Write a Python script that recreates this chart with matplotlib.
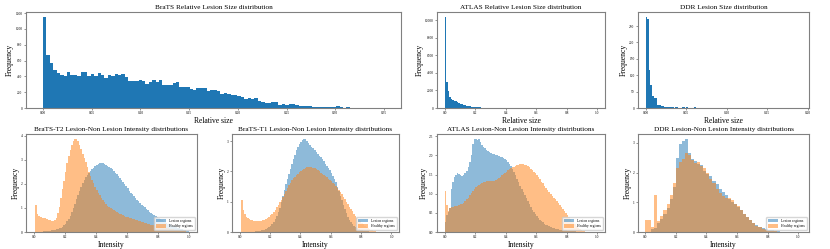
import numpy as np
import matplotlib
matplotlib.use('Agg')
import matplotlib.pyplot as plt
from matplotlib.ticker import MultipleLocator

plt.rcParams['font.family'] = 'serif'
plt.rcParams['font.serif'] = ['Liberation Serif', 'DejaVu Serif']

# --- relative lesion size histograms (counts per bin, 100 bins from 0) ---
brats_size_max = 0.35
brats_size_counts = [
    1157, 668, 570, 485, 443, 421, 400, 460, 413, 413,
    408, 455, 451, 408, 434, 408, 438, 413, 379, 421,
    408, 426, 421, 434, 391, 345, 336, 336, 349, 340,
    306, 328, 357, 328, 357, 289, 294, 289, 319, 323,
    264, 268, 264, 243, 234, 255, 255, 255, 221, 234,
    234, 209, 183, 196, 183, 162, 162, 149, 136, 119,
    128, 119, 123, 85, 81, 64, 64, 81, 77, 38,
    47, 43, 51, 47, 38, 26, 26, 21, 21, 17,
    13, 13, 9, 9, 9, 13, 21, 9, 4, 13,
    4, 3, 2, 2, 1, 1, 1, 0, 1, 1,
]

atlas_size_max = 1.0
atlas_size_counts = [
    10420, 2960, 1885, 1230, 1040, 920, 846, 770, 654, 577,
    500, 423, 346, 308, 270, 230, 190, 160, 150, 130,
    120, 100, 80, 60, 50, 40, 30, 22, 16, 12,
    10, 8, 6, 5, 4, 3, 3, 2, 2, 1,
    1, 1, 0, 1, 0, 0, 1, 0, 0, 0,
    0, 0, 0, 0, 0, 0, 0, 0, 0, 0,
    0, 0, 0, 0, 0, 0, 0, 0, 0, 0,
    0, 0, 0, 0, 0, 0, 0, 0, 0, 0,
    0, 0, 0, 0, 0, 0, 0, 0, 0, 0,
    0, 0, 0, 0, 0, 0, 0, 0, 0, 1,
]

ddr_size_max = 0.192
ddr_size_counts = [
    279, 272, 115, 69, 38, 30, 30, 10, 9, 9,
    6, 7, 4, 3, 4, 3, 2, 2, 1, 3,
    2, 1, 1, 2, 3, 1, 2, 1, 1, 0,
    1, 2, 1, 0, 1, 1, 0, 1, 0, 1,
    0, 1, 0, 0, 1, 0, 1, 0, 0, 1,
    0, 0, 1, 0, 0, 0, 1, 0, 0, 0,
    1, 0, 0, 0, 0, 1, 0, 0, 0, 0,
    0, 1, 0, 0, 0, 0, 0, 1, 0, 0,
    0, 0, 0, 0, 1, 0, 0, 0, 0, 0,
    0, 0, 0, 0, 0, 0, 0, 0, 0, 1,
]

# --- intensity histograms (density over [0, 1]) ---
# BraTS-T2, 100 bins
t2_lesion = [
    0.00, 0.00, 0.01, 0.01, 0.02, 0.02, 0.03, 0.04, 0.05, 0.05,
    0.06, 0.07, 0.08, 0.09, 0.11, 0.12, 0.15, 0.18, 0.22, 0.28,
    0.35, 0.44, 0.55, 0.68, 0.84, 1.00, 1.18, 1.36, 1.54, 1.72,
    1.88, 2.03, 2.16, 2.28, 2.38, 2.47, 2.55, 2.62, 2.68, 2.73,
    2.78, 2.82, 2.85, 2.86, 2.85, 2.83, 2.80, 2.76, 2.71, 2.66,
    2.60, 2.54, 2.47, 2.40, 2.32, 2.24, 2.16, 2.07, 1.98, 1.90,
    1.81, 1.72, 1.64, 1.56, 1.48, 1.41, 1.34, 1.27, 1.20, 1.14,
    1.08, 1.02, 0.96, 0.90, 0.85, 0.80, 0.75, 0.70, 0.65, 0.61,
    0.57, 0.53, 0.49, 0.45, 0.42, 0.38, 0.35, 0.32, 0.29, 0.26,
    0.23, 0.21, 0.18, 0.16, 0.13, 0.11, 0.09, 0.07, 0.05, 0.03,
]
t2_healthy = [
    0.00, 1.13, 0.75, 0.66, 0.62, 0.60, 0.58, 0.57, 0.54, 0.51,
    0.48, 0.46, 0.46, 0.50, 0.58, 0.78, 1.05, 1.42, 1.78, 2.12,
    2.50, 2.88, 3.18, 3.42, 3.63, 3.78, 3.85, 3.88, 3.80, 3.62,
    3.45, 3.26, 3.08, 2.90, 2.70, 2.50, 2.33, 2.17, 2.02, 1.88,
    1.75, 1.62, 1.52, 1.42, 1.33, 1.24, 1.17, 1.10, 1.05, 0.99,
    0.94, 0.90, 0.86, 0.82, 0.79, 0.76, 0.73, 0.70, 0.67, 0.64,
    0.62, 0.59, 0.57, 0.54, 0.52, 0.50, 0.48, 0.46, 0.44, 0.42,
    0.40, 0.38, 0.36, 0.34, 0.33, 0.31, 0.30, 0.28, 0.27, 0.25,
    0.24, 0.22, 0.21, 0.19, 0.18, 0.16, 0.15, 0.13, 0.12, 0.11,
    0.10, 0.09, 0.08, 0.07, 0.06, 0.05, 0.04, 0.03, 0.02, 0.01,
]
# BraTS-T1, 100 bins
t1_lesion = [
    0.00, 0.00, 0.00, 0.00, 0.00, 0.00, 0.00, 0.00, 0.01, 0.01,
    0.02, 0.02, 0.03, 0.04, 0.05, 0.06, 0.08, 0.10, 0.13, 0.16,
    0.20, 0.26, 0.33, 0.42, 0.52, 0.65, 0.80, 0.98, 1.18, 1.38,
    1.58, 1.76, 1.92, 2.08, 2.24, 2.40, 2.55, 2.70, 2.82, 2.90,
    2.96, 3.03, 3.08, 3.06, 3.00, 2.94, 2.88, 2.82, 2.76, 2.70,
    2.64, 2.58, 2.52, 2.46, 2.40, 2.33, 2.26, 2.19, 2.11, 2.03,
    1.95, 1.86, 1.76, 1.64, 1.50, 1.35, 1.20, 1.04, 0.89, 0.75,
    0.62, 0.51, 0.41, 0.33, 0.26, 0.20, 0.16, 0.12, 0.09, 0.07,
    0.05, 0.04, 0.03, 0.02, 0.02, 0.01, 0.01, 0.00, 0.00, 0.00,
    0.00, 0.00, 0.00, 0.00, 0.00, 0.00, 0.00, 0.00, 0.00, 0.00,
]
t1_healthy = [
    0.00, 1.05, 0.72, 0.58, 0.50, 0.45, 0.42, 0.40, 0.38, 0.37,
    0.36, 0.35, 0.35, 0.36, 0.37, 0.38, 0.40, 0.43, 0.46, 0.50,
    0.55, 0.61, 0.67, 0.74, 0.82, 0.90, 0.98, 1.07, 1.16, 1.26,
    1.36, 1.46, 1.55, 1.63, 1.71, 1.77, 1.83, 1.88, 1.93, 1.97,
    2.01, 2.05, 2.08, 2.11, 2.14, 2.15, 2.15, 2.14, 2.12, 2.10,
    2.07, 2.04, 2.00, 1.96, 1.92, 1.88, 1.84, 1.80, 1.76, 1.72,
    1.68, 1.63, 1.58, 1.52, 1.46, 1.39, 1.32, 1.24, 1.16, 1.08,
    1.00, 0.92, 0.84, 0.76, 0.68, 0.61, 0.54, 0.47, 0.41, 0.35,
    0.30, 0.25, 0.20, 0.16, 0.12, 0.09, 0.07, 0.05, 0.03, 0.02,
    0.01, 0.01, 0.00, 0.00, 0.00, 0.00, 0.00, 0.00, 0.00, 0.00,
]
# ATLAS, 100 bins
atlas_lesion = [
    0.26, 0.44, 0.52, 0.62, 1.12, 1.30, 1.44, 1.50, 1.53, 1.52,
    1.48, 1.46, 1.50, 1.54, 1.60, 1.70, 1.84, 2.02, 2.30, 2.42,
    2.44, 2.40, 2.42, 2.34, 2.28, 2.23, 2.19, 2.15, 2.11, 2.08,
    2.06, 2.04, 2.03, 2.02, 2.00, 1.98, 1.96, 1.95, 1.93, 1.91,
    1.88, 1.84, 1.78, 1.72, 1.64, 1.56, 1.48, 1.39, 1.30, 1.21,
    1.12, 1.04, 0.96, 0.88, 0.80, 0.72, 0.65, 0.58, 0.52, 0.46,
    0.41, 0.36, 0.32, 0.28, 0.25, 0.22, 0.19, 0.17, 0.15, 0.13,
    0.11, 0.10, 0.09, 0.08, 0.07, 0.06, 0.05, 0.05, 0.04, 0.04,
    0.03, 0.03, 0.03, 0.02, 0.02, 0.02, 0.01, 0.01, 0.01, 0.01,
    0.00, 0.00, 0.00, 0.00, 0.00, 0.00, 0.00, 0.00, 0.00, 0.00,
]
atlas_healthy = [
    1.07, 0.71, 0.55, 0.62, 0.65, 0.66, 0.67, 0.68, 0.69, 0.70,
    0.72, 0.74, 0.77, 0.80, 0.85, 0.90, 0.96, 1.02, 1.08, 1.13,
    1.18, 1.21, 1.24, 1.26, 1.28, 1.30, 1.32, 1.33, 1.34, 1.34,
    1.34, 1.33, 1.34, 1.36, 1.38, 1.41, 1.44, 1.48, 1.52, 1.55,
    1.58, 1.61, 1.64, 1.67, 1.69, 1.71, 1.73, 1.75, 1.76, 1.77,
    1.77, 1.77, 1.76, 1.74, 1.72, 1.69, 1.66, 1.62, 1.58, 1.53,
    1.48, 1.43, 1.38, 1.32, 1.27, 1.21, 1.15, 1.09, 1.04, 0.99,
    0.94, 0.89, 0.85, 0.80, 0.75, 0.71, 0.66, 0.61, 0.56, 0.50,
    0.45, 0.40, 0.35, 0.30, 0.25, 0.20, 0.15, 0.11, 0.08, 0.05,
    0.03, 0.02, 0.01, 0.00, 0.00, 0.00, 0.00, 0.00, 0.00, 0.00,
]
# DDR, 50 bins
ddr_lesion = [
    0.0, 0.0, 0.10, 0.15, 0.30, 0.45, 0.60, 0.80, 1.10, 1.50,
    2.48, 2.97, 3.06, 3.14, 2.66, 2.45, 2.40, 2.30, 2.25, 2.05,
    1.95, 1.90, 1.72, 1.60, 1.45, 1.35, 1.25, 1.10, 1.02, 0.95,
    0.85, 0.75, 0.62, 0.50, 0.40, 0.30, 0.22, 0.17, 0.13, 0.10,
    0.08, 0.06, 0.04, 0.02, 0.01, 0.0, 0.0, 0.0, 0.0, 0.0,
]
ddr_healthy = [
    0.42, 0.42, 0.16, 1.23, 0.37, 0.53, 0.74, 0.95, 1.26, 1.65,
    2.16, 2.37, 2.45, 2.66, 2.58, 2.43, 2.33, 2.35, 2.23, 2.14,
    1.98, 1.79, 1.65, 1.46, 1.32, 1.21, 1.15, 1.15, 1.09, 0.95,
    0.88, 0.74, 0.60, 0.51, 0.39, 0.30, 0.21, 0.16, 0.10, 0.07,
    0.05, 0.03, 0.02, 0.01, 0.0, 0.0, 0.0, 0.0, 0.0, 0.0,
]

W, H = 830, 249
fig = plt.figure(figsize=(W / 100, H / 100), dpi=100)


def px_axes(x0, y0, x1, y1):
    # pixel box (left, top, right, bottom) -> figure axes
    return fig.add_axes([x0 / W, 1 - y1 / H, (x1 - x0) / W, (y1 - y0) / H])


def style(ax, title, xlabel):
    for s in ax.spines.values():
        s.set_color('#808080')
        s.set_linewidth(0.8)
    ax.tick_params(labelsize=2.5, length=1.5, width=0.4, pad=1, color='#444444')
    ax.set_title(title, fontsize=5.2, pad=2)
    ax.set_xlabel(xlabel, fontsize=5.5, labelpad=1)
    ax.set_ylabel('Frequency', fontsize=5.5, labelpad=1)


def size_hist(ax, counts, vmax):
    edges = np.linspace(0, vmax, len(counts) + 1)
    ax.hist(edges[:-1], bins=edges, weights=counts, color='#1f77b4')


def intensity_hist(ax, lesion, healthy):
    edges = np.linspace(0, 1, len(lesion) + 1)
    ax.hist(edges[:-1], bins=edges, weights=lesion, color='#1f77b4', alpha=0.5,
            label='Lesion regions')
    ax.hist(edges[:-1], bins=edges, weights=healthy, color='#ff7f0e', alpha=0.5,
            label='Healthy regions')
    ax.set_xlim(-0.05, 1.05)
    ax.xaxis.set_major_locator(MultipleLocator(0.2))
    ax.legend(loc='lower right', fontsize=2.7, handlelength=2.8, handleheight=0.9,
              borderpad=0.5, labelspacing=0.35, frameon=True)


# ---- top row: lesion sizes ----
ax = px_axes(26, 12, 401, 108)
size_hist(ax, brats_size_counts, brats_size_max)
ax.yaxis.set_major_locator(MultipleLocator(200))
style(ax, 'BraTS Relative Lesion Size distribution', 'Relative size')

ax = px_axes(437, 12, 605, 108)
size_hist(ax, atlas_size_counts, atlas_size_max)
ax.yaxis.set_major_locator(MultipleLocator(2000))
style(ax, 'ATLAS Relative Lesion Size distribution', 'Relative size')

ax = px_axes(638, 12, 809, 108)
size_hist(ax, ddr_size_counts, ddr_size_max)
ax.yaxis.set_major_locator(MultipleLocator(50))
ax.xaxis.set_major_locator(MultipleLocator(0.05))
style(ax, 'DDR Lesion Size distribution', 'Relative size')

# ---- bottom row: intensity distributions ----
ax = px_axes(26, 134, 197, 232)
intensity_hist(ax, t2_lesion, t2_healthy)
ax.yaxis.set_major_locator(MultipleLocator(1))
style(ax, 'BraTS-T2 Lesion-Non Lesion Intensity distributions', 'Intensity')

ax = px_axes(232, 134, 399, 232)
intensity_hist(ax, t1_lesion, t1_healthy)
ax.yaxis.set_major_locator(MultipleLocator(1))
style(ax, 'BraTS-T1 Lesion-Non Lesion Intensity distributions', 'Intensity')

ax = px_axes(437, 134, 605, 232)
intensity_hist(ax, atlas_lesion, atlas_healthy)
ax.yaxis.set_major_locator(MultipleLocator(0.5))
style(ax, 'ATLAS Lesion-Non Lesion Intensity distributions', 'Intensity')

ax = px_axes(638, 134, 809, 232)
intensity_hist(ax, ddr_lesion, ddr_healthy)
ax.set_xlim(-0.046, 1.07)
ax.yaxis.set_major_locator(MultipleLocator(1))
style(ax, 'DDR Lesion-Non Lesion Intensity distributions', 'Intensity')

fig.savefig('out.png', dpi=100)
